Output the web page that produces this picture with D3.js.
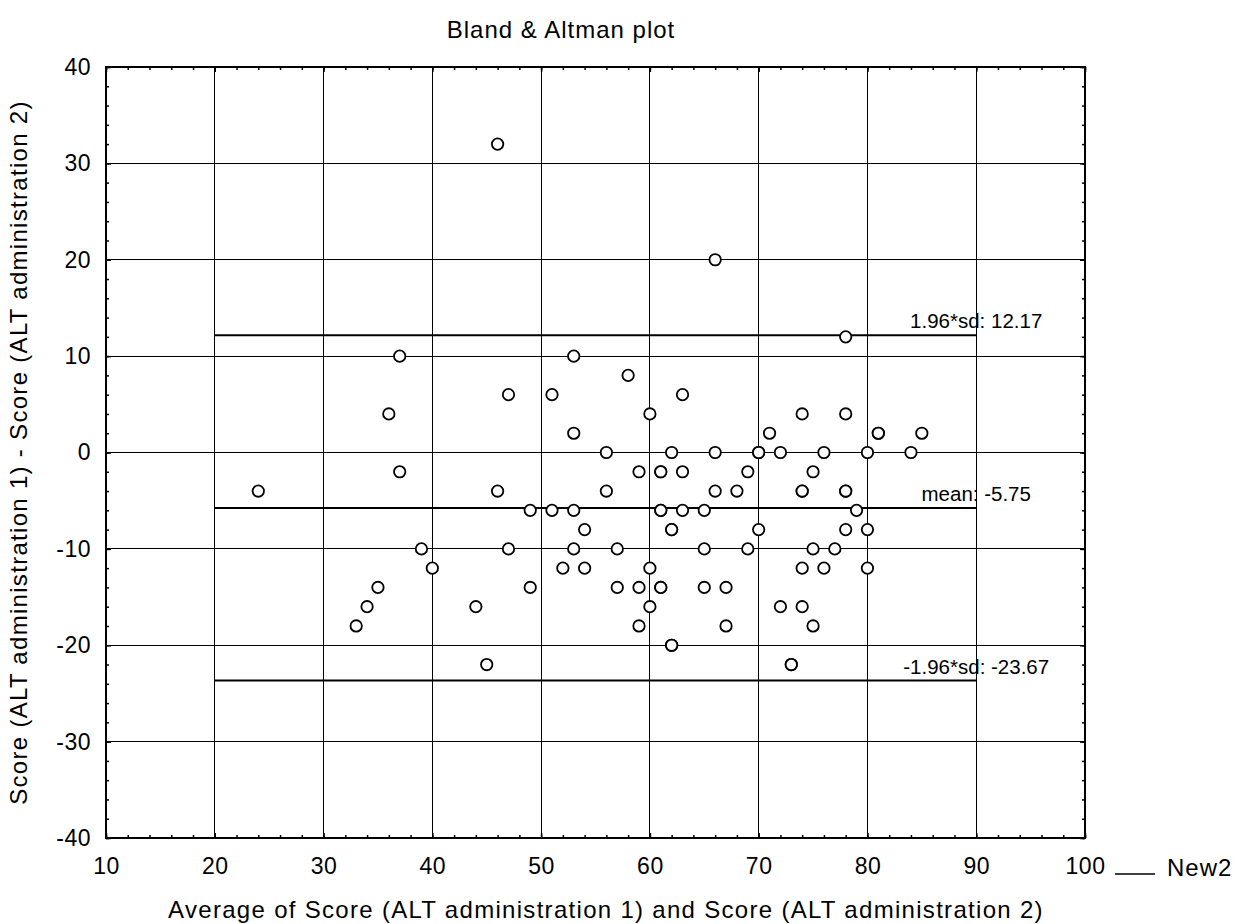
<!DOCTYPE html>
<html>
<head>
<meta charset="utf-8">
<script src="https://cdn.jsdelivr.net/npm/d3@7"></script>
<style>
  body { margin: 0; background: #fff; }
  svg { display: block; font-family: "Liberation Sans", Arial, sans-serif; }
</style>
</head>
<body>
<svg id="chart" width="1235" height="924"></svg>
<script>
// average of the two administrations (x) and their difference (y)
const avgVals = [
  46, 66, 78, 37, 53, 58, 36, 47, 51, 63, 60, 74, 78, 53, 71, 81, 81, 85,
  56, 62, 66, 70, 70, 72, 76, 80, 84,
  37, 59, 61, 61, 63, 69, 75,
  24, 46, 56, 66, 68, 74, 74, 78, 78,
  49, 51, 53, 61, 61, 63, 65, 79,
  54, 62, 62, 70, 78, 80,
  39, 47, 53, 57, 65, 69, 75, 77,
  40, 52, 54, 60, 74, 76, 80,
  35, 49, 57, 59, 61, 61, 65, 67,
  34, 44, 60, 72, 74,
  33, 59, 67, 75,
  62, 62, 45, 73, 73
];
const diffVals = [
  32, 20, 12, 10, 10, 8, 4, 6, 6, 6, 4, 4, 4, 2, 2, 2, 2, 2,
  0, 0, 0, 0, 0, 0, 0, 0, 0,
  -2, -2, -2, -2, -2, -2, -2,
  -4, -4, -4, -4, -4, -4, -4, -4, -4,
  -6, -6, -6, -6, -6, -6, -6, -6,
  -8, -8, -8, -8, -8, -8,
  -10, -10, -10, -10, -10, -10, -10, -10,
  -12, -12, -12, -12, -12, -12, -12,
  -14, -14, -14, -14, -14, -14, -14, -14,
  -16, -16, -16, -16, -16,
  -18, -18, -18, -18,
  -20, -20, -22, -22, -22
];

const meanDiff = -5.75;
const upperLimit = 12.17;
const lowerLimit = -23.67;
const refRange = [20, 90];
const refLines = [
  { value: upperLimit, label: "1.96*sd: 12.17" },
  { value: meanDiff, label: "mean: -5.75" },
  { value: lowerLimit, label: "-1.96*sd: -23.67" }
];

const xTicks = [10, 20, 30, 40, 50, 60, 70, 80, 90, 100];
const yTicks = [-40, -30, -20, -10, 0, 10, 20, 30, 40];

const titleText = "Bland & Altman plot";
const xTitle = "Average of Score (ALT administration 1) and Score (ALT administration 2)";
const yTitle = "Score (ALT administration 1) - Score (ALT administration 2)";
const legendText = "New2";

const plotL = 106, plotR = 1085, plotT = 67, plotB = 838;
const svg = d3.select("#chart");

const x = d3.scaleLinear().domain([10, 100]).range([plotL, plotR]);
const y = d3.scaleLinear().domain([-40, 40]).range([plotB, plotT]);

const xMinor = d3.range(10, 101, 2);
const yMinor = d3.range(-40, 41, 2);

// grid
const grid = svg.append("g").attr("stroke", "#000").attr("stroke-width", 1).attr("shape-rendering", "crispEdges");
grid.selectAll(".gx").data(xTicks.slice(1, -1)).join("line")
  .attr("x1", d => x(d)).attr("x2", d => x(d)).attr("y1", plotT).attr("y2", plotB);
grid.selectAll(".gy").data(yTicks.slice(1, -1)).join("line")
  .attr("y1", d => y(d)).attr("y2", d => y(d)).attr("x1", plotL).attr("x2", plotR);

// reference lines (mean and limits of agreement)
svg.append("g").selectAll("line").data(refLines).join("line")
  .attr("x1", x(refRange[0])).attr("x2", x(refRange[1]))
  .attr("y1", d => y(d.value)).attr("y2", d => y(d.value))
  .attr("stroke", "#000").attr("stroke-width", 2);

// points
const pts = avgVals.map((v, i) => ({ x: v, y: diffVals[i] }));
svg.append("g").selectAll("circle").data(pts).join("circle")
  .attr("cx", d => x(d.x)).attr("cy", d => y(d.y)).attr("r", 5.7)
  .attr("fill", "#fff").attr("stroke", "#000").attr("stroke-width", 1.8);

// ref labels
svg.append("g").selectAll("text").data(refLines).join("text")
  .attr("x", x(refRange[1])).attr("y", d => y(d.value) - 7)
  .attr("text-anchor", "middle").attr("font-size", 20.5)
  .text(d => d.label);

// axes with inward ticks
function axisGroup(axis, tx, ty) {
  const g = svg.append("g").attr("transform", `translate(${tx},${ty})`).call(axis);
  g.attr("font-family", null);
  g.select(".domain").remove();
  g.selectAll("line").attr("stroke", "#000").attr("stroke-width", 1.5);
  return g;
}
const noLabel = () => "";
const plainNum = d => String(d);
axisGroup(d3.axisBottom(x).tickValues(xMinor).tickSize(-3).tickFormat(noLabel), 0, plotB);
axisGroup(d3.axisTop(x).tickValues(xMinor).tickSize(-3).tickFormat(noLabel), 0, plotT);
axisGroup(d3.axisLeft(y).tickValues(yMinor).tickSize(-3).tickFormat(noLabel), plotL, 0);
axisGroup(d3.axisRight(y).tickValues(yMinor).tickSize(-3).tickFormat(noLabel), plotR, 0);
axisGroup(d3.axisTop(x).tickValues(xTicks).tickSize(-5).tickFormat(noLabel), 0, plotT);
axisGroup(d3.axisRight(y).tickValues(yTicks).tickSize(-5).tickFormat(noLabel), plotR, 0);

const xa = axisGroup(d3.axisBottom(x).tickValues(xTicks).tickSize(-5).tickPadding(20).tickFormat(plainNum), 0, plotB);
xa.attr("font-size", 23);
xa.selectAll("text").attr("fill", "#000").attr("letter-spacing", 0.5);
const ya = axisGroup(d3.axisLeft(y).tickValues(yTicks).tickSize(-5).tickPadding(15).tickFormat(plainNum), plotL, 0);
ya.attr("font-size", 23);
ya.selectAll("text").attr("fill", "#000").attr("letter-spacing", 0.5);

// frame
svg.append("rect").attr("x", plotL).attr("y", plotT)
  .attr("width", plotR - plotL).attr("height", plotB - plotT)
  .attr("fill", "none").attr("stroke", "#000").attr("stroke-width", 2);

// titles
svg.append("text").attr("x", 561).attr("y", 38).attr("text-anchor", "middle")
  .attr("font-size", 24).attr("letter-spacing", 1).text(titleText);
svg.append("text").attr("x", 606).attr("y", 918).attr("text-anchor", "middle")
  .attr("font-size", 24).attr("letter-spacing", 1.3).text(xTitle);
svg.append("text").attr("transform", `translate(27,${(plotT + plotB) / 2}) rotate(-90)`)
  .attr("text-anchor", "middle").attr("font-size", 24).attr("letter-spacing", 1.3).text(yTitle);

// legend
svg.append("line").attr("x1", 1115).attr("x2", 1155).attr("y1", 874).attr("y2", 874)
  .attr("stroke", "#000").attr("stroke-width", 1.5);
svg.append("text").attr("x", 1167).attr("y", 876).attr("font-size", 24)
  .attr("letter-spacing", 1).text(legendText);
</script>
</body>
</html>
